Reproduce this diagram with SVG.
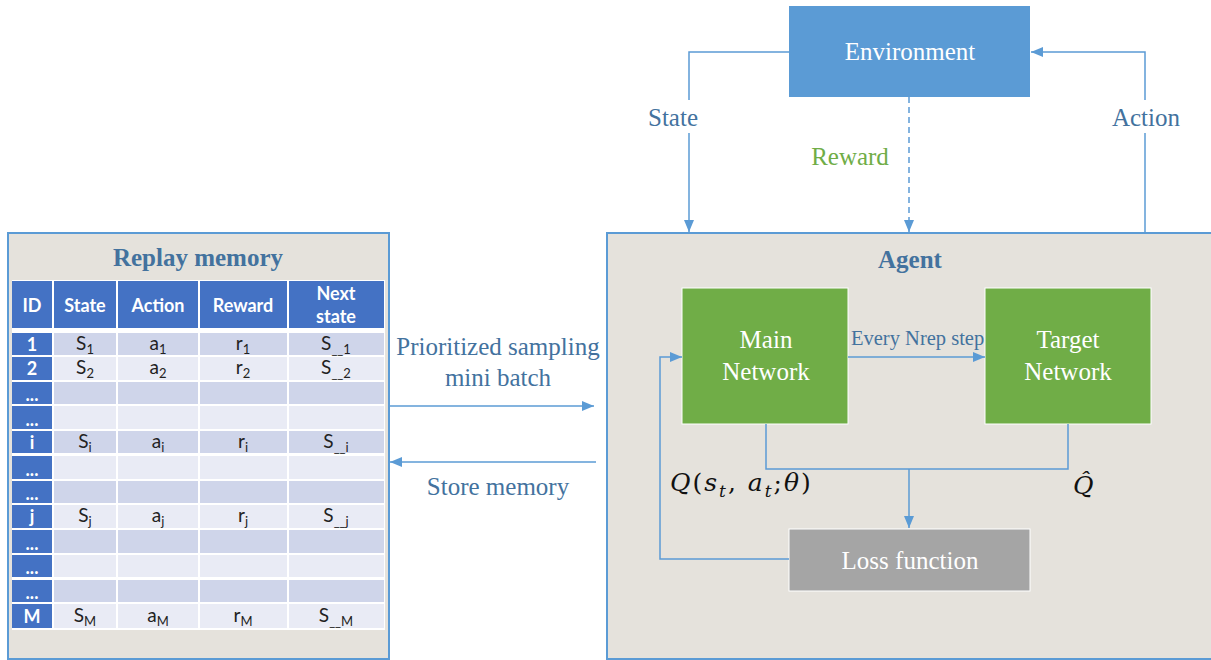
<svg xmlns="http://www.w3.org/2000/svg" width="1211" height="660" viewBox="0 0 1211 660">
  <defs>
    <marker id="arrow" viewBox="0 0 12 10" refX="12" refY="5" markerWidth="12" markerHeight="10" markerUnits="userSpaceOnUse" orient="auto">
      <path d="M0,0 L12,5 L0,10 Z" fill="#5B9BD5"/>
    </marker>
    <style>
      .conn { fill: none; stroke: #5B9BD5; stroke-width: 1.5; }
      .panel { fill: #E5E2DC; stroke: #5B9BD5; stroke-width: 2; }
      .serif { font-family: "Liberation Serif", "Times New Roman", serif; }
      .label { font-family: "Liberation Serif", "Times New Roman", serif; font-size: 25px; fill: #43729E; text-anchor: middle; }
      .title { font-family: "Liberation Serif", "Times New Roman", serif; font-size: 25px; font-weight: bold; fill: #43729E; text-anchor: middle; }
      .boxtxt { font-family: "Liberation Serif", "Times New Roman", serif; font-size: 25px; fill: #FFFFFF; text-anchor: middle; }
      .math { font-family: "DejaVu Serif", "Liberation Serif", serif; font-style: italic; font-size: 25px; fill: #111111; }
      .hd { fill: #4472C4; }
      .dk { fill: #CFD5EA; }
      .lt { fill: #E9EBF5; }
      .hdtxt { font-family: Lato, "Liberation Sans", sans-serif; font-weight: bold; font-size: 18px; fill: #FFFFFF; text-anchor: middle; }
      .cell { font-family: Lato, "Liberation Sans", sans-serif; font-size: 19px; fill: #222222; text-anchor: middle; }
    </style>
  </defs>

  <rect width="1211" height="660" fill="#FFFFFF"/>

  <!-- Agent panel -->
  <g id="agent">
    <rect class="panel" x="607" y="233" width="610" height="426"/>
    <text class="title" x="910" y="268">Agent</text>
  </g>

  <!-- Replay memory panel with table -->
  <g id="replay-memory">
    <rect class="panel" x="8" y="233" width="381" height="426"/>
    <text class="title" x="198" y="266">Replay memory</text>
    <rect x="12" y="280" width="373" height="350" fill="#FFFFFF"/>
    <!-- header -->
    <rect class="hd" x="12" y="281" width="40" height="47"/>
    <rect class="hd" x="54" y="281" width="62" height="47"/>
    <rect class="hd" x="118" y="281" width="80" height="47"/>
    <rect class="hd" x="200" y="281" width="87" height="47"/>
    <rect class="hd" x="289" y="281" width="95" height="47"/>
    <text class="hdtxt" x="32" y="312">ID</text>
    <text class="hdtxt" x="85" y="312">State</text>
    <text class="hdtxt" x="158" y="312">Action</text>
    <text class="hdtxt" x="243" y="312">Reward</text>
    <text class="hdtxt" x="336" y="300">Next</text>
    <text class="hdtxt" x="336" y="323">state</text>

    <!-- body rows: ID cell + four data cells -->
    <g id="row-1">
      <rect class="hd" x="12" y="333" width="40" height="22"/>
      <rect class="dk" x="54" y="333" width="62" height="22"/><rect class="dk" x="118" y="333" width="80" height="22"/><rect class="dk" x="200" y="333" width="87" height="22"/><rect class="dk" x="289" y="333" width="95" height="22"/>
    </g>
    <g id="row-2">
      <rect class="hd" x="12" y="357" width="40" height="23"/>
      <rect class="lt" x="54" y="357" width="62" height="23"/><rect class="lt" x="118" y="357" width="80" height="23"/><rect class="lt" x="200" y="357" width="87" height="23"/><rect class="lt" x="289" y="357" width="95" height="23"/>
    </g>
    <g id="row-3">
      <rect class="hd" x="12" y="382" width="40" height="22"/>
      <rect class="dk" x="54" y="382" width="62" height="22"/><rect class="dk" x="118" y="382" width="80" height="22"/><rect class="dk" x="200" y="382" width="87" height="22"/><rect class="dk" x="289" y="382" width="95" height="22"/>
    </g>
    <g id="row-4">
      <rect class="hd" x="12" y="406" width="40" height="23"/>
      <rect class="lt" x="54" y="406" width="62" height="23"/><rect class="lt" x="118" y="406" width="80" height="23"/><rect class="lt" x="200" y="406" width="87" height="23"/><rect class="lt" x="289" y="406" width="95" height="23"/>
    </g>
    <g id="row-i">
      <rect class="hd" x="12" y="431" width="40" height="22"/>
      <rect class="dk" x="54" y="431" width="62" height="22"/><rect class="dk" x="118" y="431" width="80" height="22"/><rect class="dk" x="200" y="431" width="87" height="22"/><rect class="dk" x="289" y="431" width="95" height="22"/>
    </g>
    <g id="row-6">
      <rect class="hd" x="12" y="456" width="40" height="23"/>
      <rect class="lt" x="54" y="456" width="62" height="23"/><rect class="lt" x="118" y="456" width="80" height="23"/><rect class="lt" x="200" y="456" width="87" height="23"/><rect class="lt" x="289" y="456" width="95" height="23"/>
    </g>
    <g id="row-7">
      <rect class="hd" x="12" y="481" width="40" height="22"/>
      <rect class="dk" x="54" y="481" width="62" height="22"/><rect class="dk" x="118" y="481" width="80" height="22"/><rect class="dk" x="200" y="481" width="87" height="22"/><rect class="dk" x="289" y="481" width="95" height="22"/>
    </g>
    <g id="row-j">
      <rect class="hd" x="12" y="505" width="40" height="23"/>
      <rect class="lt" x="54" y="505" width="62" height="23"/><rect class="lt" x="118" y="505" width="80" height="23"/><rect class="lt" x="200" y="505" width="87" height="23"/><rect class="lt" x="289" y="505" width="95" height="23"/>
    </g>
    <g id="row-9">
      <rect class="hd" x="12" y="530" width="40" height="23"/>
      <rect class="dk" x="54" y="530" width="62" height="23"/><rect class="dk" x="118" y="530" width="80" height="23"/><rect class="dk" x="200" y="530" width="87" height="23"/><rect class="dk" x="289" y="530" width="95" height="23"/>
    </g>
    <g id="row-10">
      <rect class="hd" x="12" y="555" width="40" height="22"/>
      <rect class="lt" x="54" y="555" width="62" height="22"/><rect class="lt" x="118" y="555" width="80" height="22"/><rect class="lt" x="200" y="555" width="87" height="22"/><rect class="lt" x="289" y="555" width="95" height="22"/>
    </g>
    <g id="row-11">
      <rect class="hd" x="12" y="580" width="40" height="22"/>
      <rect class="dk" x="54" y="580" width="62" height="22"/><rect class="dk" x="118" y="580" width="80" height="22"/><rect class="dk" x="200" y="580" width="87" height="22"/><rect class="dk" x="289" y="580" width="95" height="22"/>
    </g>
    <g id="row-M">
      <rect class="hd" x="12" y="604" width="40" height="24"/>
      <rect class="lt" x="54" y="604" width="62" height="24"/><rect class="lt" x="118" y="604" width="80" height="24"/><rect class="lt" x="200" y="604" width="87" height="24"/><rect class="lt" x="289" y="604" width="95" height="24"/>
    </g>

    <!-- ID column labels -->
    <text class="hdtxt" x="32" y="351">1</text>
    <text class="hdtxt" x="32" y="375">2</text>
    <text class="hdtxt" x="32" y="401" font-size="14">...</text>
    <text class="hdtxt" x="32" y="426" font-size="14">...</text>
    <text class="hdtxt" x="32" y="449">i</text>
    <text class="hdtxt" x="32" y="476" font-size="14">...</text>
    <text class="hdtxt" x="32" y="500" font-size="14">...</text>
    <text class="hdtxt" x="32" y="523">j</text>
    <text class="hdtxt" x="32" y="550" font-size="14">...</text>
    <text class="hdtxt" x="32" y="574" font-size="14">...</text>
    <text class="hdtxt" x="32" y="599" font-size="14">...</text>
    <text class="hdtxt" x="32" y="623">M</text>

    <!-- data cells -->
    <text class="cell" x="85" y="350">S<tspan font-size="13" dy="4">1</tspan></text>
    <text class="cell" x="158" y="350">a<tspan font-size="13" dy="4">1</tspan></text>
    <text class="cell" x="243" y="350">r<tspan font-size="13" dy="4">1</tspan></text>
    <text class="cell" x="336" y="350">S<tspan font-size="13" dy="4">__1</tspan></text>

    <text class="cell" x="85" y="374">S<tspan font-size="13" dy="4">2</tspan></text>
    <text class="cell" x="158" y="374">a<tspan font-size="13" dy="4">2</tspan></text>
    <text class="cell" x="243" y="374">r<tspan font-size="13" dy="4">2</tspan></text>
    <text class="cell" x="336" y="374">S<tspan font-size="13" dy="4">__2</tspan></text>

    <text class="cell" x="85" y="448">S<tspan font-size="13" dy="4">i</tspan></text>
    <text class="cell" x="158" y="448">a<tspan font-size="13" dy="4">i</tspan></text>
    <text class="cell" x="243" y="448">r<tspan font-size="13" dy="4">i</tspan></text>
    <text class="cell" x="336" y="448">S<tspan font-size="13" dy="4">__i</tspan></text>

    <text class="cell" x="85" y="522">S<tspan font-size="13" dy="4">j</tspan></text>
    <text class="cell" x="158" y="522">a<tspan font-size="13" dy="4">j</tspan></text>
    <text class="cell" x="243" y="522">r<tspan font-size="13" dy="4">j</tspan></text>
    <text class="cell" x="336" y="522">S<tspan font-size="13" dy="4">__j</tspan></text>

    <text class="cell" x="85" y="622">S<tspan font-size="13" dy="4">M</tspan></text>
    <text class="cell" x="158" y="622">a<tspan font-size="13" dy="4">M</tspan></text>
    <text class="cell" x="243" y="622">r<tspan font-size="13" dy="4">M</tspan></text>
    <text class="cell" x="336" y="622">S<tspan font-size="13" dy="4">__M</tspan></text>
  </g>

  <!-- Environment -->
  <g id="environment">
    <rect x="789" y="6" width="241" height="91" fill="#5B9BD5"/>
    <text class="boxtxt" x="910" y="60">Environment</text>
  </g>

  <!-- Main network -->
  <g id="main-network">
    <rect x="682" y="288" width="166" height="136" fill="#70AD47" stroke="#FFFFFF" stroke-width="1"/>
    <text class="boxtxt" x="766" y="348">Main</text>
    <text class="boxtxt" x="766" y="380">Network</text>
  </g>

  <!-- Target network -->
  <g id="target-network">
    <rect x="985" y="288" width="166" height="136" fill="#70AD47" stroke="#FFFFFF" stroke-width="1"/>
    <text class="boxtxt" x="1068" y="348">Target</text>
    <text class="boxtxt" x="1068" y="380">Network</text>
  </g>

  <!-- Loss function -->
  <g id="loss-function">
    <rect x="789" y="529" width="241" height="62" fill="#A5A5A5" stroke="#FFFFFF" stroke-width="1"/>
    <text class="boxtxt" x="910" y="569">Loss function</text>
  </g>

  <!-- Connectors -->
  <g id="connectors">
    <!-- Environment -> Agent : state -->
    <path class="conn" d="M789,52 H689 V100"/>
    <path class="conn" d="M689,133 V232" marker-end="url(#arrow)"/>
    <!-- Environment -> Agent : reward (dashed) -->
    <path class="conn" d="M909,97 V232" stroke-dasharray="6,4" marker-end="url(#arrow)"/>
    <!-- Agent -> Environment : action -->
    <path class="conn" d="M1145,233 V133"/>
    <path class="conn" d="M1145,100 V52 H1031" marker-end="url(#arrow)"/>
    <!-- Replay memory <-> Agent -->
    <path class="conn" d="M390,406 H594" marker-end="url(#arrow)"/>
    <path class="conn" d="M596,462 H390" marker-end="url(#arrow)"/>
    <!-- Main -> Target -->
    <path class="conn" d="M848,357 H985" marker-end="url(#arrow)"/>
    <!-- Networks -> Loss -->
    <path class="conn" d="M766,424 V469 H1068 V424"/>
    <path class="conn" d="M909,469 V528" marker-end="url(#arrow)"/>
    <!-- Loss -> Main feedback -->
    <path class="conn" d="M789,559 H660 V357 H682" marker-end="url(#arrow)"/>
  </g>

  <!-- Connector labels -->
  <g id="labels">
    <text class="label" x="673" y="126">State</text>
    <text class="label" x="1146" y="126">Action</text>
    <text class="label" x="850" y="165" style="fill:#70AD47">Reward</text>
    <text class="label" x="498" y="355">Prioritized sampling</text>
    <text class="label" x="498" y="386">mini batch</text>
    <text class="label" x="498" y="495">Store memory</text>
    <text class="serif" x="851" y="345" font-size="20.5" fill="#43729E">Every Nrep step</text>
    <text class="math" x="670" y="491" letter-spacing="2">Q<tspan font-style="normal">(</tspan>s<tspan font-size="17" dy="6">t</tspan><tspan font-style="normal" dy="-6">, </tspan>a<tspan font-size="17" dy="6">t</tspan><tspan font-style="normal" dy="-6">;</tspan>θ<tspan font-style="normal">)</tspan></text>
    <text class="math" x="1073" y="494">Q̂</text>
  </g>
</svg>
